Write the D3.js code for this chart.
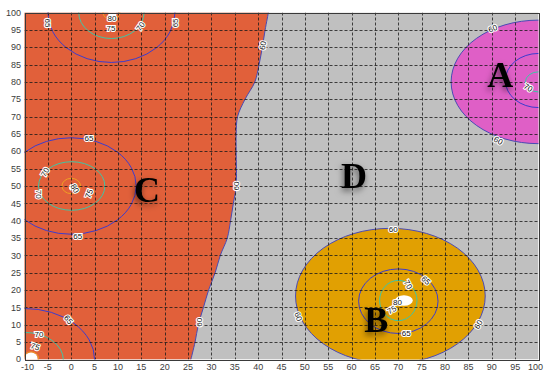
<!DOCTYPE html>
<html>
<head>
<meta charset="utf-8">
<script src="https://cdn.jsdelivr.net/npm/d3@7"></script>
<style>
  body { margin: 0; background: #fff; }
  svg { display: block; }
</style>
</head>
<body>
<svg id="chart" width="544" height="372"></svg>
<script>
// ---- data -------------------------------------------------------------
const xTicks = d3.range(-10, 101, 5);
const yTicks = d3.range(0, 101, 5);

// 60-level boundary between zone C (left) and zone D
const boundaryCD = [
  [25.6, 0], [26.5, 5], [27.2, 10], [28.3, 15], [29.4, 20], [30.8, 25],
  [31.9, 30], [33.4, 35], [34.1, 40], [34.7, 45], [35.3, 50], [35.3, 60],
  [35.3, 65], [35.6, 70], [37.2, 75], [39.3, 80], [40.2, 85], [40.9, 90],
  [41.5, 95], [42.2, 100]
];

// closed 60-level zones: [zone, cx, cy, rx, ry]
const zoneA = ["A", 100, 80, 18.7, 17.8];
const zoneB = ["B", 68.3, 18.3, 20.3, 19.5];

// inner iso-lines: [level, cx, cy, rx, ry]
const rings = [
  [65, 8.6, 100, 13.6, 14.4],
  [70, 8.6, 100, 7.0, 7.5],
  [75, 8.6, 100, 1.8, 2.0],
  [65, 0, 50, 13.9, 13.9],
  [70, 0.1, 50, 7.1, 7.0],
  [75, 0, 50, 2.0, 2.2],
  [65, -10, 0, 15.0, 14.7],
  [70, -10, 0, 8.3, 7.8],
  [75, -8.6, 0.3, 1.6, 1.9],
  [65, 100, 80.4, 7.1, 7.8],
  [70, 100, 80, 2.8, 2.9],
  [65, 70, 16.8, 8.5, 9.3],
  [70, 70, 17, 4.0, 5.8]
];

// peak spots: [cx, cy, rx, ry]
const peaks = [
  [8.8, 99.6, 0.9, 1.0],
  [0.3, 49.6, 0.8, 1.0],
  [-8.6, 0.3, 1.4, 1.7],
  [71.2, 17, 1.9, 1.5]
];

// iso-line labels: [level, x, y, angle]
const contourLabels = [
  [65, -5, 97, 90], [80, 8.7, 98.4, 0], [75, 8.5, 95.6, 0], [70, 14.8, 96, -55],
  [65, 22.2, 97, -90], [60, 41, 90.5, -80], [60, 35.3, 50, -90], [60, 27.4, 10.7, -90],
  [65, 3.8, 63.7, 0], [70, -5.6, 54, -60], [70, -6.9, 47.6, 90], [75, 3.8, 47.8, -70],
  [80, 0.8, 49.3, 60], [65, 1.4, 35.6, 0],
  [65, -0.6, 11.5, 50], [70, -6.9, 7.2, 0], [75, -7.7, 3.7, 20],
  [60, 90.2, 95.4, -20], [60, 91.4, 63.1, 30], [70, 97.8, 78.4, 30],
  [60, 68.9, 37.5, 0], [60, 48.6, 12.4, 70], [60, 87.1, 10.1, -60],
  [65, 75.9, 22.8, 45], [65, 71.7, 7.5, 0], [70, 72.1, 21.6, 60],
  [75, 68.6, 14.3, -30], [80, 69.8, 16.6, 0]
];

// zone letters: [letter, x, y]
const zoneLetters = [["A", 91.8, 78.5], ["B", 65.3, 8], ["C", 16.2, 45.5], ["D", 60.5, 49.5]];

// ---- styles -----------------------------------------------------------
const zoneFill = { A: "#df5fc6", B: "#e1a002", C: "#e1603a", D: "#c0c0c0" };
const levelColor = { 60: "#4a4ab4", 65: "#3c3cce", 70: "#3fc6a6", 75: "#f0a024" };

// ---- layout -----------------------------------------------------------
const svg = d3.select("#chart");
const x = d3.scaleLinear().domain([-10, 100]).range([24.5, 538.5]);
const y = d3.scaleLinear().domain([0, 100]).range([359.5, 12.5]);
const px = v => Math.round(x(v)) + 0.5;
const py = v => Math.round(y(v)) + 0.5;

const defs = svg.append("defs");
defs.append("clipPath").attr("id", "plot")
  .append("rect")
  .attr("x", x(-10)).attr("y", y(100))
  .attr("width", x(100) - x(-10)).attr("height", y(0) - y(100));

const shadow = defs.append("filter").attr("id", "shadow")
  .attr("x", "-50%").attr("y", "-50%").attr("width", "200%").attr("height", "200%");
shadow.append("feDropShadow")
  .attr("dx", -1).attr("dy", 3).attr("stdDeviation", 3)
  .attr("flood-color", "#000").attr("flood-opacity", 0.55);

const plot = svg.append("g").attr("clip-path", "url(#plot)");

// zone D background
plot.append("rect")
  .attr("x", x(-10)).attr("y", y(100))
  .attr("width", x(100) - x(-10)).attr("height", y(0) - y(100))
  .attr("fill", zoneFill.D);

// zone C: left of the boundary
const boundaryLine = d3.line().x(d => x(d[0])).y(d => y(d[1])).curve(d3.curveCatmullRom);
const bPath = boundaryLine(boundaryCD);
plot.append("path")
  .attr("d", bPath + `L${x(-12)},${y(100)}L${x(-12)},${y(0)}Z`)
  .attr("fill", zoneFill.C);
plot.append("path")
  .attr("d", bPath)
  .attr("fill", "none").attr("stroke", levelColor[60]).attr("stroke-width", 1);

// closed zones A and B
[zoneA, zoneB].forEach(z => {
  plot.append("ellipse")
    .attr("cx", x(z[1])).attr("cy", y(z[2]))
    .attr("rx", x(z[1] + z[3]) - x(z[1])).attr("ry", y(z[2]) - y(z[2] + z[4]))
    .attr("fill", zoneFill[z[0]])
    .attr("stroke", levelColor[60]).attr("stroke-width", 1);
});

// inner iso-lines
plot.selectAll("ellipse.ring").data(rings).join("ellipse")
  .attr("class", "ring")
  .attr("cx", d => x(d[1])).attr("cy", d => y(d[2]))
  .attr("rx", d => x(d[1] + d[3]) - x(d[1])).attr("ry", d => y(d[2]) - y(d[2] + d[4]))
  .attr("fill", "none")
  .attr("stroke", d => levelColor[d[0]]).attr("stroke-width", 1);

plot.selectAll("ellipse.peak").data(peaks).join("ellipse")
  .attr("class", "peak")
  .attr("cx", d => x(d[0])).attr("cy", d => y(d[1]))
  .attr("rx", d => x(d[0] + d[2]) - x(d[0])).attr("ry", d => y(d[1]) - y(d[1] + d[3]))
  .attr("fill", "#fff");

// dashed grid
const grid = plot.append("g")
  .attr("stroke", "#1a1a1a").attr("stroke-opacity", 0.8)
  .attr("stroke-width", 1).attr("stroke-dasharray", "3,2");
grid.selectAll("line.v").data(xTicks.filter(t => t > -10 && t < 100)).join("line")
  .attr("class", "v")
  .attr("x1", d => px(d)).attr("x2", d => px(d))
  .attr("y1", y(100)).attr("y2", y(0));
grid.selectAll("line.h").data(yTicks.filter(t => t > 0 && t < 100)).join("line")
  .attr("class", "h")
  .attr("y1", d => py(d)).attr("y2", d => py(d))
  .attr("x1", x(-10)).attr("x2", x(100));

// iso-line labels
plot.selectAll("text.lvl").data(contourLabels).join("text")
  .attr("class", "lvl")
  .attr("transform", d => `translate(${x(d[1])},${y(d[2])}) rotate(${d[3]})`)
  .attr("text-anchor", "middle").attr("dy", "0.35em")
  .attr("font-family", "Liberation Sans, Arial, sans-serif")
  .attr("font-size", 8)
  .attr("fill", "#111")
  .attr("stroke", "#fff").attr("stroke-width", 2.2)
  .attr("paint-order", "stroke")
  .text(d => d[0]);

// zone letters
svg.selectAll("text.zone").data(zoneLetters).join("text")
  .attr("class", "zone")
  .attr("x", d => x(d[1])).attr("y", d => y(d[2]))
  .attr("text-anchor", "middle")
  .attr("font-family", "Liberation Serif, Times New Roman, serif")
  .attr("font-weight", "bold")
  .attr("font-size", 36)
  .attr("fill", "#000")
  .attr("filter", "url(#shadow)")
  .text(d => d[0]);

// frame
svg.append("rect")
  .attr("x", Math.round(x(-10)) + 0.5).attr("y", Math.round(y(100)) + 0.5)
  .attr("width", Math.round(x(100)) - Math.round(x(-10)))
  .attr("height", Math.round(y(0)) - Math.round(y(100)))
  .attr("fill", "none").attr("stroke", "#3a3a3a").attr("stroke-width", 1);

// tick labels; the end x labels are nudged inward so they stay clear
// of the y-axis "0" and inside the right edge of the page
const tickFont = "Liberation Sans, Arial, sans-serif";
const xNudge = d => (d === -10 ? 3 : d === 100 ? -3 : 0);
svg.selectAll("text.xt").data(xTicks).join("text")
  .attr("class", "xt")
  .attr("x", d => x(d) + xNudge(d)).attr("y", 370)
  .attr("text-anchor", "middle")
  .attr("font-family", tickFont).attr("font-size", 9)
  .attr("fill", "#3c3c3c")
  .text(d => d);
svg.selectAll("text.yt").data(yTicks).join("text")
  .attr("class", "yt")
  .attr("x", 21).attr("y", d => y(d) - (d === 0 ? 1 : 0))
  .attr("dy", "0.35em")
  .attr("text-anchor", "end")
  .attr("font-family", tickFont).attr("font-size", 9)
  .attr("fill", "#3c3c3c")
  .text(d => d);
</script>
</body>
</html>
